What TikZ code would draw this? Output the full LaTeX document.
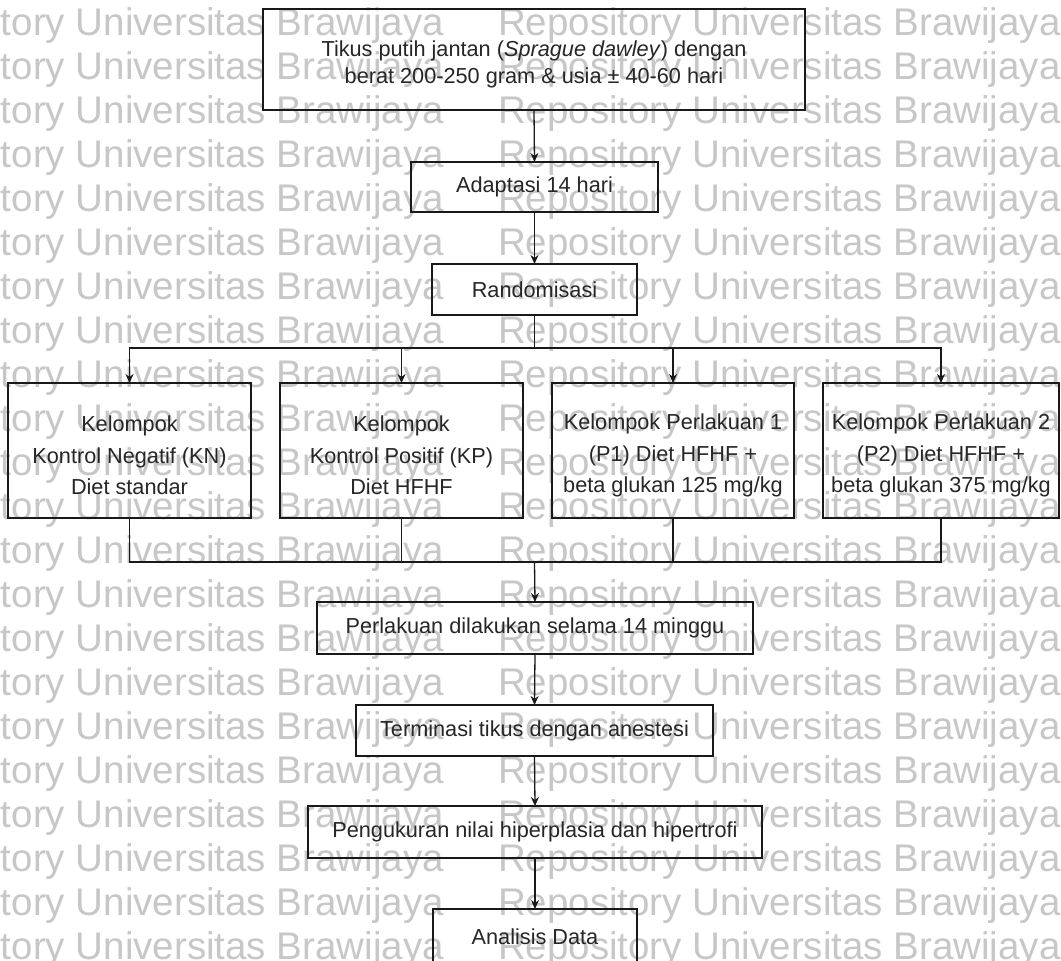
\documentclass[tikz,border=0pt]{standalone}
\usepackage{fontspec}
\setmainfont{Liberation Sans}
\usetikzlibrary{arrows.meta}
\tikzset{
  box/.style={draw=black!90, line width=1.3pt, inner sep=0pt, outer sep=0pt, align=center,
    font=\fontsize{21.7}{27}\selectfont, text=black!85},
  grp/.style={box, font=\fontsize{21.7}{31.5}\selectfont},
  arr/.style={draw=black!90, line width=1.3pt, -{Stealth[length=9pt,width=8pt]}},
  ln/.style={draw=black!90, line width=1.3pt},
  wm/.style={inner sep=0pt, outer sep=0pt, text=black!22, font=\fontsize{38.5}{40}\selectfont}
}
\newcommand{\lowerby}[1]{\rule{0pt}{#1}}
\begin{document}
\begin{tikzpicture}[x=1pt, y=-1pt]
\useasboundingbox (0,0) rectangle (1061,961);
\fill[white] (0,0) rectangle (1061,961);
% watermark
\foreach \k in {0,...,21}{
  \node[wm, anchor=base west] (wl\k) at (1, 35+44*\k) {tory Universitas Brawijaya};
  \node[wm, anchor=base west] (wr\k) at (498, 35+44*\k) {Repository Universitas Brawijaya};
}
% boxes
\node[box, minimum width=542pt, minimum height=101pt] (b1) at (534,59.5)
  {\lowerby{25pt}Tikus putih jantan (\textit{Sprague dawley}) dengan\\berat 200-250 gram \& usia ± 40-60 hari};
\node[box, minimum width=247pt, minimum height=50pt] (b2) at (534.5,187) {Adaptasi 14 hari};
\node[box, minimum width=205pt, minimum height=51pt] (b3) at (534.5,289.5) {Randomisasi};
\node[grp, minimum width=243pt, minimum height=135pt] (kn) at (129.5,450.5)
  {\lowerby{26pt}Kelompok\\Kontrol Negatif (KN)\\Diet standar};
\node[grp, minimum width=243pt, minimum height=135pt] (kp) at (401.5,450.5)
  {\lowerby{26pt}Kelompok\\Kontrol Positif (KP)\\Diet HFHF};
\node[grp, minimum width=242pt, minimum height=135pt] (p1) at (673,450.5)
  {\lowerby{26pt}Kelompok Perlakuan 1\\(P1) Diet HFHF +\\beta glukan 125 mg/kg};
\node[grp, minimum width=236pt, minimum height=135pt] (p2) at (941,450.5)
  {\lowerby{26pt}Kelompok Perlakuan 2\\(P2) Diet HFHF +\\beta glukan 375 mg/kg};
\node[box, minimum width=436pt, minimum height=52pt] (b5) at (535,628) {Perlakuan dilakukan selama 14 minggu};
\node[box, minimum width=357pt, minimum height=51pt] (b6) at (534.5,730.5) {Terminasi tikus dengan anestesi};
\node[box, minimum width=454pt, minimum height=52pt] (b7) at (535,832) {Pengukuran nilai hiperplasia dan hipertrofi};
\node[box, minimum width=204pt, minimum height=56pt] (b8) at (535,937) {Analisis Data};
% connectors
\draw[arr] (b1.south) -- (b2.north);
\draw[arr] (b2.south) -- (b3.north);
\coordinate (s) at (534.5,348);
\draw[ln] (b3.south) -- (s);
\draw[arr] (s) -| (kn.north);
\draw[arr] (s) -| (kp.north);
\draw[arr] (s) -| (p1.north);
\draw[arr] (s) -| (p2.north);
\coordinate (m) at (534.5,562);
\draw[ln] (kn.south) |- (m);
\draw[ln] (kp.south) |- (m);
\draw[ln] (p1.south) |- (m);
\draw[ln] (p2.south) |- (m);
\draw[arr] (m) -- (b5.north);
\draw[arr] (b5.south) -- (b6.north);
\draw[arr] (b6.south) -- (b7.north);
\draw[arr] (b7.south) -- (b8.north);
\end{tikzpicture}
\end{document}
